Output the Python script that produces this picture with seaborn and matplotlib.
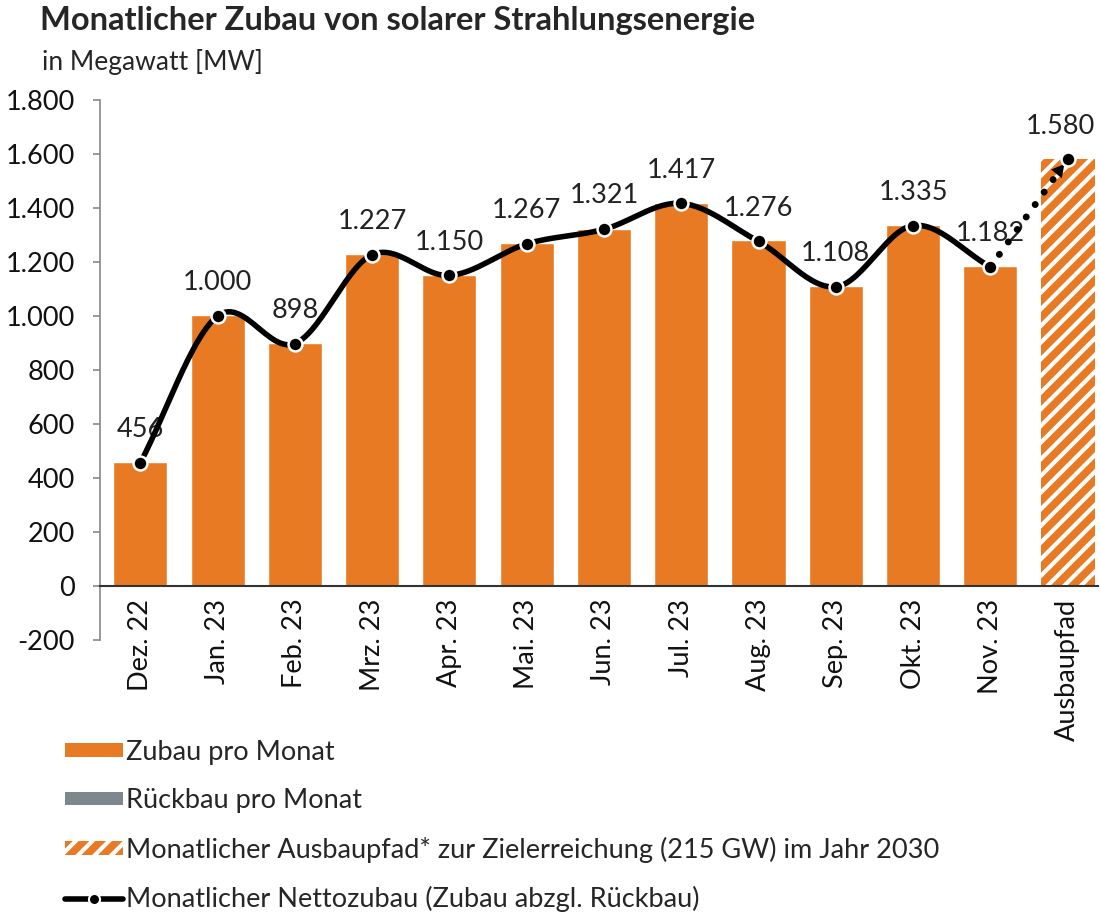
import numpy as np
import matplotlib
matplotlib.use("Agg")
import matplotlib.pyplot as plt
import seaborn as sns
from matplotlib.patches import Patch
from matplotlib.lines import Line2D
from matplotlib.ticker import FuncFormatter

sns.set_style("white")
plt.rcParams["font.family"] = ["Lato", "DejaVu Sans"]
plt.rcParams["hatch.linewidth"] = 3.0

# -----------------------------
# Data
# -----------------------------
months = ["Dez. 22", "Jan. 23", "Feb. 23", "Mrz. 23", "Apr. 23", "Mai. 23",
          "Jun. 23", "Jul. 23", "Aug. 23", "Sep. 23", "Okt. 23", "Nov. 23"]
zubau = [460, 1003, 900, 1230, 1152, 1270, 1323, 1420, 1280, 1110, 1338, 1185]
netto = [456, 1000, 898, 1227, 1150, 1267, 1321, 1417, 1276, 1108, 1335, 1182]
ausbau_label = "Ausbaupfad"
ausbau_value = 1580

ORANGE = "#E97A24"
GREY = "#7D878D"

categories = months + [ausbau_label]
bar_values = zubau + [ausbau_value]

fig = plt.figure(figsize=(11, 9.17), dpi=100)
ax = fig.add_axes([0.091, 0.302, 0.907, 0.589])

sns.barplot(x=categories, y=bar_values, color=ORANGE, width=0.70,
            saturation=1, ax=ax, zorder=2)

# hatched target bar
last = ax.patches[-1]
last.set_hatch("//")
last.set_edgecolor("white")
last.set_linewidth(0)

# smooth net line (Catmull-Rom through the monthly points)
xs = np.arange(len(netto), dtype=float)
ys = np.array(netto, dtype=float)
px = np.concatenate([[2 * xs[0] - xs[1]], xs, [2 * xs[-1] - xs[-2]]])
py = np.concatenate([[2 * ys[0] - ys[1]], ys, [2 * ys[-1] - ys[-2]]])
cx, cy = [], []
t = np.linspace(0, 1, 30)
for i in range(1, len(px) - 2):
    p0, p1, p2, p3 = py[i - 1], py[i], py[i + 1], py[i + 2]
    q0, q1, q2, q3 = px[i - 1], px[i], px[i + 1], px[i + 2]
    cy.append(0.5 * ((2 * p1) + (-p0 + p2) * t + (2 * p0 - 5 * p1 + 4 * p2 - p3) * t ** 2
                     + (-p0 + 3 * p1 - 3 * p2 + p3) * t ** 3))
    cx.append(0.5 * ((2 * q1) + (-q0 + q2) * t + (2 * q0 - 5 * q1 + 4 * q2 - q3) * t ** 2
                     + (-q0 + 3 * q1 - 3 * q2 + q3) * t ** 3))
ax.plot(np.concatenate(cx), np.concatenate(cy), color="black", lw=4, zorder=3,
        solid_capstyle="round")

# dotted extension to target
n = len(netto)
ax.plot([n - 1, n - 0.14], [netto[-1], ausbau_value - 0.14 * (ausbau_value - netto[-1])],
        color="black", lw=5, linestyle=(0, (0.01, 2.2)), dash_capstyle="round", zorder=3)
ax.annotate("", xy=(n - 0.02, ausbau_value - 10), xytext=(n - 0.22, ausbau_value - 80),
            arrowprops=dict(arrowstyle="-|>,head_length=0.9,head_width=0.5",
                            color="black", lw=0), zorder=4)

# markers
ax.plot(range(n), netto, "o", color="black", ms=10, mec="white", mew=1.8, zorder=5)
ax.plot([n], [ausbau_value], "o", color="black", ms=10, mec="white", mew=1.8, zorder=5)

def fmt(v):
    return f"{v:,.0f}".replace(",", ".")

for i, v in enumerate(netto + [ausbau_value]):
    dx = -5 if i == n else 0
    ax.annotate(fmt(v), (i, v), xytext=(dx, 24), textcoords="offset points",
                ha="center", va="center", fontsize=19.5, color="#222222", zorder=1)

ax.set_ylim(-200, 1800)
ax.set_xlim(-0.52, 12.39)
ax.set_yticks(range(-200, 1801, 200))
ax.yaxis.set_major_formatter(FuncFormatter(lambda v, p: fmt(v)))
ax.tick_params(axis="y", labelsize=19.5, length=5, width=1.2, color="#888888",
               left=True, pad=13, labelcolor="#111111")
ax.tick_params(axis="x", labelsize=19.5, length=0, rotation=90, pad=9, labelcolor="#111111")
for s in ["top", "right"]:
    ax.spines[s].set_visible(False)
ax.spines["left"].set_color("#888888")
ax.spines["left"].set_linewidth(1.2)
ax.spines["bottom"].set_position(("data", 0))
ax.spines["bottom"].set_color("#333333")
ax.spines["bottom"].set_linewidth(1.5)
ax.spines["bottom"].set_zorder(4)
ax.set_xlabel("")
ax.set_ylabel("")

fig.text(0.036, 0.978, "Monatlicher Zubau von solarer Strahlungsenergie",
         fontsize=23.5, fontweight="bold", va="center", ha="left")
fig.text(0.038, 0.932, "in Megawatt [MW]", fontsize=19, va="center", ha="left")

handles = [
    Patch(facecolor=ORANGE, edgecolor="none"),
    Patch(facecolor=GREY, edgecolor="none"),
    Patch(facecolor=ORANGE, edgecolor="white", hatch="//", linewidth=0),
    Line2D([0], [0], color="black", lw=4, marker="o", ms=8, mec="white", mew=1.5),
]
labels = [
    "Zubau pro Monat",
    "Rückbau pro Monat",
    "Monatlicher Ausbaupfad* zur Zielerreichung (215 GW) im Jahr 2030",
    "Monatlicher Nettozubau (Zubau abzgl. Rückbau)",
]
fig.legend(handles, labels, loc="upper left", bbox_to_anchor=(0.049, 0.205),
           frameon=False, fontsize=19.5, handlelength=2.15, handleheight=0.4,
           handletextpad=0.1, labelspacing=0.86, borderaxespad=0)

plt.savefig("out.png", dpi=100)
